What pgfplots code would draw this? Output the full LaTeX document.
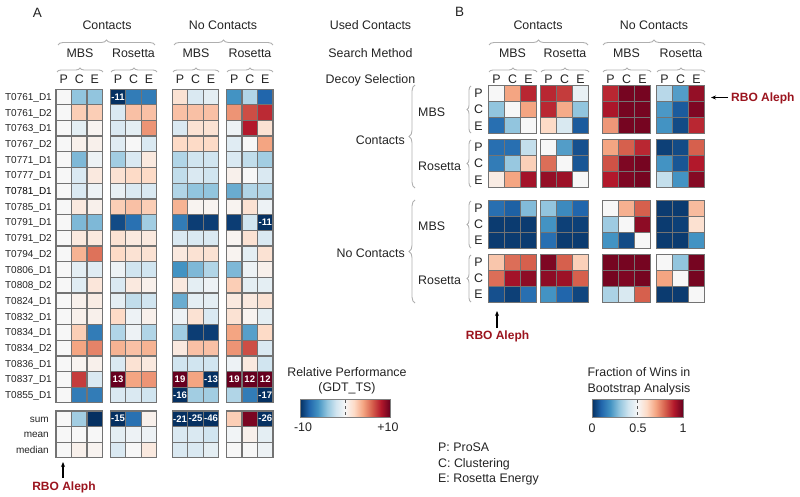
\documentclass[border=0pt]{standalone}
\usepackage{fontspec}
\setmainfont{Liberation Sans}
\usepackage{pgfplots}
\pgfplotsset{compat=1.18}
\usepackage{pgfplotstable}
\usetikzlibrary{decorations.pathreplacing,arrows.meta}

\definecolor{rb0}{RGB}{5,48,97}
\definecolor{rb1}{RGB}{33,102,172}
\definecolor{rb2}{RGB}{67,147,195}
\definecolor{rb3}{RGB}{146,197,222}
\definecolor{rb4}{RGB}{209,229,240}
\definecolor{rb5}{RGB}{247,247,247}
\definecolor{rb6}{RGB}{253,219,199}
\definecolor{rb7}{RGB}{244,165,130}
\definecolor{rb8}{RGB}{214,96,77}
\definecolor{rb9}{RGB}{178,24,43}
\definecolor{rb10}{RGB}{103,0,31}
\definecolor{aleph}{RGB}{155,20,30}
\definecolor{brgray}{RGB}{175,175,175}
\definecolor{cellgray}{RGB}{115,115,115}
\definecolor{txt}{RGB}{35,35,35}

\pgfdeclarehorizontalshading{rdbushade}{100bp}{color(0bp)=(rb0); color(25bp)=(rb0); color(30bp)=(rb1); color(35bp)=(rb2); color(40bp)=(rb3); color(45bp)=(rb4); color(50bp)=(rb5); color(55bp)=(rb6); color(60bp)=(rb7); color(65bp)=(rb8); color(70bp)=(rb9); color(75bp)=(rb10); color(100bp)=(rb10)}

\pgfplotsset{colormap={rdbu}{rgb255=(5,48,97) rgb255=(33,102,172) rgb255=(67,147,195) rgb255=(146,197,222) rgb255=(209,229,240) rgb255=(247,247,247) rgb255=(253,219,199) rgb255=(244,165,130) rgb255=(214,96,77) rgb255=(178,24,43) rgb255=(103,0,31)}}

\newcommand\fs[1]{\fontsize{#1}{#1}\selectfont}

\tikzset{
  br/.style={decorate, decoration={brace, amplitude=#1}, draw=brgray, line width=0.9pt},
  br/.default=5pt,
  hd/.style={anchor=base, font=\fs{12.4}, text=txt, inner sep=0pt},
  rl/.style={anchor=base east, font=\fs{10}, text=txt, inner sep=0pt},
  cl/.style={anchor=center, font=\fs{9.5}\bfseries, text=white, inner sep=0pt}
}

\pgfplotsset{
  cellA/.style={scatter, only marks, mark=square*, mark size=7.75pt, point meta=explicit,
    scatter/use mapped color={draw=cellgray, fill=mapped color}, mark options={line width=1.1pt}},
  cellB/.style={scatter, only marks, mark=square*, mark size=8pt, point meta=explicit,
    scatter/use mapped color={draw=cellgray, fill=mapped color}, mark options={line width=1.1pt}},
  frame/.style={at={(0,0)}, anchor=south west, scale only axis, width=800pt, height=497pt,
    xmin=0, xmax=800, ymin=0, ymax=497, y dir=reverse, hide axis, clip=false,
    enlargelimits=false, colormap name=rdbu}
}

% Panel A: relative performance (GDT_TS), rows = targets, columns = 12 method combos
\pgfplotstableread{
r v1 v2 v3 v4 v5 v6 v7 v8 v9 v10 v11 v12
0 0 -4 -4 -11 -7 -7 1.5 -1.5 -1 -6 -3 -8
1 0 2.5 2.5 -1.5 3 3 3 3 3 4.5 6.5 7.5
2 0 -1 0.3 -1.5 -1 4.5 -1.5 1.5 1.5 -0.5 8 1.5
3 0 0.5 0.5 -1.2 0 -1.5 2 2 2 -1.2 0 4
4 0 -4.5 -0.5 -3.5 -1.5 1 -3 -2 -2 -1.5 -2.5 -3.5
5 0 -1.5 1 1.5 2 2 -2.5 -1.5 -2 0.5 0 -1.5
6 0 -1.5 -0.5 -0.8 -1.5 -1.5 -3 -4 -4 -5 -3 -3
7 0 1 0.5 2.5 3 2.5 3.5 0.3 0.3 0.3 1.5 -0.5
8 0 -4.5 -4.5 -9 -7.5 -3.5 -7 -9.5 -9.5 -9.5 -2 -11
9 0 1 1 1.5 1 1 -1.5 -1.5 -1.5 0.3 1.5 -1.5
10 0 3.5 5.5 2 1.5 1.5 1 1.5 1.5 0.3 -1 1.5
11 0 -1 -1.2 -0.5 -2 -2 -6 -4.5 -3 -4.5 -0.5 0.5
12 0 -1.2 1.2 -1.5 1 0.5 1 -1 -0.5 2.5 -1 -1
13 0 0.5 0.8 -1 -2.5 -2 -5 -1 -1 1 1 1.5
14 0 0.5 0.5 2 -0.5 0.5 -0.5 1.5 -1.5 1.5 0.3 -1
15 0 2.5 -7 -3 -0.5 -3 -3.5 -9.5 -9.5 4 -5.5 2
16 0 4 5 3.5 3 3.5 1 3 3 4.5 6.5 -1.5
17 0 0.3 0.5 -1.5 1.5 1 -2 -2 -2 -0.5 1 -2
18 0 7 -1.5 13 4 4.5 19 4 -13 19 12 12
19 0 -7 -7 -1.5 -1.5 -2 -16 -3.5 -3.5 -3 -7 -17
20.5 0 -3.5 -10 -15 -7.5 0.5 -21 -25 -46 2.5 9.5 -26
21.5 0 0 0 -1 -0.5 -0.5 -1.5 -1.5 -2 -0.3 0.5 -1
22.5 0 0.5 0.3 -1.5 0 1 -1.5 -1.5 -1 0 0 -0.5
}\dataA

% Panel B: fraction of wins in bootstrap analysis (row method vs column method)
\pgfplotstableread{
y v1 v2 v3 v4 v5 v6 v7 v8 v9 v10 v11 v12
93.4 0.5 0.7 0.88 0.88 0.85 0.46 0.88 0.98 0.98 0.36 0.22 0.94
109.6 0.3 0.5 0.7 0.88 0.69 0.3 0.91 0.98 0.98 0.21 0.08 0.97
125.8 0.12 0.3 0.5 0.6 0.42 0.08 0.72 0.98 0.98 0.2 0.05 0.88
147.4 0.12 0.12 0.38 0.5 0.22 0.06 0.7 0.8 0.88 0.03 0.05 0.8
163.6 0.15 0.31 0.62 0.78 0.5 0.07 0.82 0.97 0.98 0.2 0.07 0.9
179.8 0.54 0.7 0.92 0.94 0.93 0.5 0.9 0.97 0.98 0.38 0.2 0.96
208.1 0.12 0.09 0.28 0.3 0.18 0.1 0.5 0.68 0.8 0.02 0.02 0.66
224.3 0.02 0.02 0.02 0.2 0.03 0.03 0.32 0.5 0.95 0.02 0.03 0.58
240.5 0.02 0.02 0.02 0.12 0.02 0.02 0.2 0.05 0.5 0.02 0.02 0.2
262.1 0.64 0.78 0.8 0.97 0.8 0.62 0.98 0.98 0.98 0.5 0.3 0.98
278.3 0.78 0.92 0.95 0.95 0.93 0.8 0.98 0.97 0.98 0.7 0.5 0.98
294.5 0.06 0.03 0.12 0.2 0.1 0.04 0.34 0.42 0.8 0.02 0.02 0.5
}\dataB

\begin{document}
\begin{tikzpicture}
% ---------------- Panel A + all text ----------------
\begin{axis}[frame, point meta min=-10, point meta max=10]
\path (axis cs:0,0) rectangle (axis cs:800,497);
\addplot[cellA] table[x expr=63.75, y expr=89+15.7*(\thisrow{r}+0.5), meta=v1]{\dataA};
\addplot[cellA] table[x expr=79.25, y expr=89+15.7*(\thisrow{r}+0.5), meta=v2]{\dataA};
\addplot[cellA] table[x expr=94.75, y expr=89+15.7*(\thisrow{r}+0.5), meta=v3]{\dataA};
\addplot[cellA] table[x expr=118, y expr=89+15.7*(\thisrow{r}+0.5), meta=v4]{\dataA};
\addplot[cellA] table[x expr=133.5, y expr=89+15.7*(\thisrow{r}+0.5), meta=v5]{\dataA};
\addplot[cellA] table[x expr=149, y expr=89+15.7*(\thisrow{r}+0.5), meta=v6]{\dataA};
\addplot[cellA] table[x expr=180, y expr=89+15.7*(\thisrow{r}+0.5), meta=v7]{\dataA};
\addplot[cellA] table[x expr=195.5, y expr=89+15.7*(\thisrow{r}+0.5), meta=v8]{\dataA};
\addplot[cellA] table[x expr=211, y expr=89+15.7*(\thisrow{r}+0.5), meta=v9]{\dataA};
\addplot[cellA] table[x expr=234.25, y expr=89+15.7*(\thisrow{r}+0.5), meta=v10]{\dataA};
\addplot[cellA] table[x expr=249.75, y expr=89+15.7*(\thisrow{r}+0.5), meta=v11]{\dataA};
\addplot[cellA] table[x expr=265.25, y expr=89+15.7*(\thisrow{r}+0.5), meta=v12]{\dataA};

% row labels
\node[rl] at (axis cs:52,100.35) {T0761\_D1};
\node[rl] at (axis cs:52,116.05) {T0761\_D2};
\node[rl] at (axis cs:52,131.75) {T0763\_D1};
\node[rl] at (axis cs:52,147.45) {T0767\_D2};
\node[rl] at (axis cs:52,163.15) {T0771\_D1};
\node[rl] at (axis cs:52,178.85) {T0777\_D1};
\node[rl, text=black] at (axis cs:52,194.55) {T0781\_D1};
\node[rl] at (axis cs:52,210.25) {T0785\_D1};
\node[rl] at (axis cs:52,225.95) {T0791\_D1};
\node[rl] at (axis cs:52,241.65) {T0791\_D2};
\node[rl] at (axis cs:52,257.35) {T0794\_D2};
\node[rl] at (axis cs:52,273.05) {T0806\_D1};
\node[rl] at (axis cs:52,288.75) {T0808\_D2};
\node[rl] at (axis cs:52,304.45) {T0824\_D1};
\node[rl] at (axis cs:52,320.15) {T0832\_D1};
\node[rl] at (axis cs:52,335.85) {T0834\_D1};
\node[rl] at (axis cs:52,351.55) {T0834\_D2};
\node[rl] at (axis cs:52,367.25) {T0836\_D1};
\node[rl] at (axis cs:52,382.95) {T0837\_D1};
\node[rl] at (axis cs:52,398.65) {T0855\_D1};
\node[rl] at (axis cs:49,422.2) {sum};
\node[rl] at (axis cs:49,437.9) {mean};
\node[rl] at (axis cs:49,453.6) {median};

% panel letters
\node[anchor=base, font=\fs{13.5}, text=txt, inner sep=0pt] at (axis cs:37.5,17.5) {A};
\node[anchor=base, font=\fs{13.5}, text=txt, inner sep=0pt] at (axis cs:459.5,17) {B};

% A headers
\node[hd] at (axis cs:107,30) {Contacts};
\node[hd] at (axis cs:223,30) {No Contacts};
\draw[br] (axis cs:58,45) -- (axis cs:155,45);
\draw[br] (axis cs:174,45) -- (axis cs:273,45);
\node[hd] at (axis cs:80,57.3) {MBS};
\node[hd] at (axis cs:133.5,57.3) {Rosetta};
\node[hd] at (axis cs:196,57.3) {MBS};
\node[hd] at (axis cs:250,57.3) {Rosetta};
\draw[br=4pt] (axis cs:57,72) -- (axis cs:103,72);
\draw[br=4pt] (axis cs:111,72) -- (axis cs:157,72);
\draw[br=4pt] (axis cs:173,72) -- (axis cs:219,72);
\draw[br=4pt] (axis cs:227,72) -- (axis cs:273,72);
\node[hd] at (axis cs:63.75,83.3) {P};
\node[hd] at (axis cs:79.25,83.3) {C};
\node[hd] at (axis cs:94.75,83.3) {E};
\node[hd] at (axis cs:118,83.3) {P};
\node[hd] at (axis cs:133.5,83.3) {C};
\node[hd] at (axis cs:149,83.3) {E};
\node[hd] at (axis cs:180,83.3) {P};
\node[hd] at (axis cs:195.5,83.3) {C};
\node[hd] at (axis cs:211,83.3) {E};
\node[hd] at (axis cs:234.25,83.3) {P};
\node[hd] at (axis cs:249.75,83.3) {C};
\node[hd] at (axis cs:265.25,83.3) {E};

% middle labels
\node[hd] at (axis cs:370.5,30) {Used Contacts};
\node[hd] at (axis cs:370.5,57.3) {Search Method};
\node[hd] at (axis cs:370.5,83.3) {Decoy Selection};

% B headers
\node[hd] at (axis cs:538,30) {Contacts};
\node[hd] at (axis cs:654,30) {No Contacts};
\draw[br] (axis cs:489,45) -- (axis cs:588,45);
\draw[br] (axis cs:603,45) -- (axis cs:705,45);
\node[hd] at (axis cs:512.5,57.3) {MBS};
\node[hd] at (axis cs:565,57.3) {Rosetta};
\node[hd] at (axis cs:626.5,57.3) {MBS};
\node[hd] at (axis cs:681,57.3) {Rosetta};
\draw[br=4pt] (axis cs:489,72) -- (axis cs:537,72);
\draw[br=4pt] (axis cs:541,72) -- (axis cs:589,72);
\draw[br=4pt] (axis cs:603,72) -- (axis cs:651,72);
\draw[br=4pt] (axis cs:657,72) -- (axis cs:705,72);
\node[hd] at (axis cs:496.5,83.3) {P};
\node[hd] at (axis cs:512.5,83.3) {C};
\node[hd] at (axis cs:528.5,83.3) {E};
\node[hd] at (axis cs:548.5,83.3) {P};
\node[hd] at (axis cs:564.5,83.3) {C};
\node[hd] at (axis cs:580.5,83.3) {E};
\node[hd] at (axis cs:610.5,83.3) {P};
\node[hd] at (axis cs:626.5,83.3) {C};
\node[hd] at (axis cs:642.5,83.3) {E};
\node[hd] at (axis cs:664.5,83.3) {P};
\node[hd] at (axis cs:680.5,83.3) {C};
\node[hd] at (axis cs:696.5,83.3) {E};
% B left labels
\node[hd] at (axis cs:478.5,97.8) {P};
\node[hd] at (axis cs:478.5,114) {C};
\node[hd] at (axis cs:478.5,130.2) {E};
\node[hd] at (axis cs:478.5,151.8) {P};
\node[hd] at (axis cs:478.5,168) {C};
\node[hd] at (axis cs:478.5,184.2) {E};
\node[hd] at (axis cs:478.5,212.5) {P};
\node[hd] at (axis cs:478.5,228.7) {C};
\node[hd] at (axis cs:478.5,244.9) {E};
\node[hd] at (axis cs:478.5,266.5) {P};
\node[hd] at (axis cs:478.5,282.7) {C};
\node[hd] at (axis cs:478.5,298.9) {E};
\draw[br=4pt] (axis cs:471,133) -- (axis cs:471,86);
\draw[br=4pt] (axis cs:471,187) -- (axis cs:471,140);
\draw[br=4pt] (axis cs:471,248) -- (axis cs:471,201);
\draw[br=4pt] (axis cs:471,302) -- (axis cs:471,255);
\node[hd, anchor=base west] at (axis cs:418,116.1) {MBS};
\node[hd, anchor=base west] at (axis cs:418,170.1) {Rosetta};
\node[hd, anchor=base west] at (axis cs:418,230.8) {MBS};
\node[hd, anchor=base west] at (axis cs:418,284.8) {Rosetta};
\draw[br=6pt] (axis cs:415,188) -- (axis cs:415,85);
\draw[br=6pt] (axis cs:415,303) -- (axis cs:415,200);
\node[hd, anchor=base east] at (axis cs:405,145) {Contacts};
\node[hd, anchor=base east] at (axis cs:405,257.3) {No Contacts};

% RBO Aleph markers
\draw[-{Stealth[length=5pt,width=4pt]}, line width=1.1pt] (axis cs:63,478) -- (axis cs:63,462);
\node[anchor=base, font=\fs{12}\bfseries, text=aleph, inner sep=0pt] at (axis cs:64,490) {RBO Aleph};
\draw[-{Stealth[length=5pt,width=4pt]}, line width=1.1pt] (axis cs:497,328) -- (axis cs:497,311);
\node[anchor=base, font=\fs{12}\bfseries, text=aleph, inner sep=0pt] at (axis cs:497.5,339.3) {RBO Aleph};
\draw[-{Stealth[length=5pt,width=4pt]}, line width=1.1pt] (axis cs:728,97.5) -- (axis cs:711,97.5);
\node[anchor=base west, font=\fs{12}\bfseries, text=aleph, inner sep=0pt] at (axis cs:731,101.7) {RBO Aleph};

% colorbar A
\node[hd] at (axis cs:347,376.7) {Relative Performance};
\node[hd] at (axis cs:347,391.7) {(GDT\_TS)};
\path[shading=rdbushade] (axis cs:300,399) rectangle (axis cs:390,417);
\draw[gray!70!black, dashed, line width=0.5pt] (axis cs:345,400) -- (axis cs:345,416);
\draw[gray, line width=1pt] (axis cs:300,399) rectangle (axis cs:390,417);
\node[hd] at (axis cs:303,431.7) {-10};
\node[hd] at (axis cs:388,431.7) {+10};

% colorbar B
\node[hd] at (axis cs:639,376.7) {Fraction of Wins in};
\node[hd] at (axis cs:639,392.3) {Bootstrap Analysis};
\path[shading=rdbushade] (axis cs:592,399) rectangle (axis cs:683,417);
\draw[gray!70!black, dashed, line width=0.5pt] (axis cs:637.5,400) -- (axis cs:637.5,416);
\draw[gray, line width=1pt] (axis cs:592,399) rectangle (axis cs:683,417);
\node[hd] at (axis cs:592,432.7) {0};
\node[hd] at (axis cs:638,432.7) {0.5};
\node[hd] at (axis cs:683,432.7) {1};

% legend
\node[hd, anchor=base west] at (axis cs:438,451.7) {P: ProSA};
\node[hd, anchor=base west] at (axis cs:438,467.3) {C: Clustering};
\node[hd, anchor=base west] at (axis cs:438,482.3) {E: Rosetta Energy};
\end{axis}

% ---------------- Panel B cells ----------------
\begin{axis}[frame, point meta min=0, point meta max=1]
\addplot[cellB] table[x expr=496.5, y=y, meta=v1]{\dataB};
\addplot[cellB] table[x expr=512.5, y=y, meta=v2]{\dataB};
\addplot[cellB] table[x expr=528.5, y=y, meta=v3]{\dataB};
\addplot[cellB] table[x expr=548.5, y=y, meta=v4]{\dataB};
\addplot[cellB] table[x expr=564.5, y=y, meta=v5]{\dataB};
\addplot[cellB] table[x expr=580.5, y=y, meta=v6]{\dataB};
\addplot[cellB] table[x expr=610.5, y=y, meta=v7]{\dataB};
\addplot[cellB] table[x expr=626.5, y=y, meta=v8]{\dataB};
\addplot[cellB] table[x expr=642.5, y=y, meta=v9]{\dataB};
\addplot[cellB] table[x expr=664.5, y=y, meta=v10]{\dataB};
\addplot[cellB] table[x expr=680.5, y=y, meta=v11]{\dataB};
\addplot[cellB] table[x expr=696.5, y=y, meta=v12]{\dataB};
\end{axis}

% ---------------- labels of saturated cells in panel A (on top) ----------------
\begin{axis}[frame]
\node[cl] at (axis cs:118,96.85) {-11};
\node[cl] at (axis cs:265.25,222.45) {-11};
\node[cl] at (axis cs:118,379.45) {13};
\node[cl] at (axis cs:180,379.45) {19};
\node[cl] at (axis cs:211,379.45) {-13};
\node[cl] at (axis cs:234.25,379.45) {19};
\node[cl] at (axis cs:249.75,379.45) {12};
\node[cl] at (axis cs:265.25,379.45) {12};
\node[cl] at (axis cs:180,395.15) {-16};
\node[cl] at (axis cs:265.25,395.15) {-17};
\node[cl] at (axis cs:118,418.7) {-15};
\node[cl] at (axis cs:180,418.7) {-21};
\node[cl] at (axis cs:195.5,418.7) {-25};
\node[cl] at (axis cs:211,418.7) {-46};
\node[cl] at (axis cs:265.25,418.7) {-26};
\end{axis}
\end{tikzpicture}
\end{document}
